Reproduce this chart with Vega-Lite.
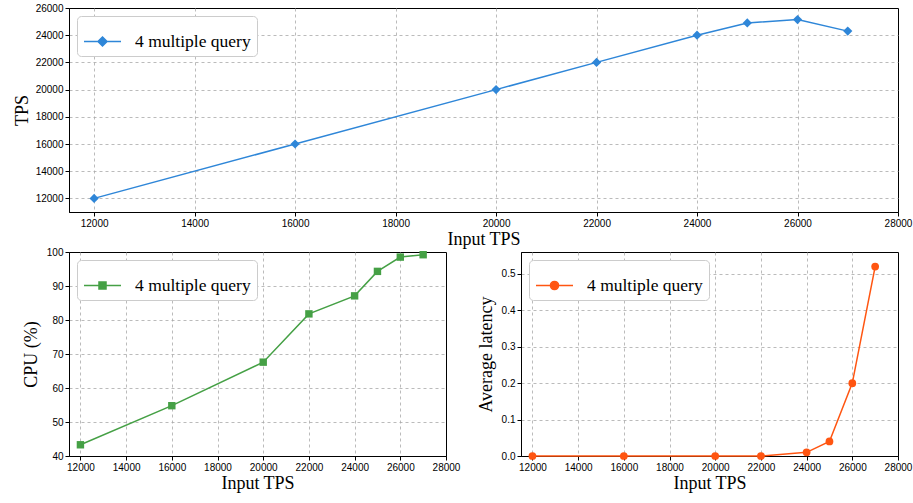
{
  "$schema": "https://vega.github.io/schema/vega-lite/v6.json",
  "padding": {"left": 12, "top": 2, "right": 5, "bottom": 5},
  "background": "white",
  "datasets": {
    "d": [
      {"x": 12000, "tps": 12000, "cpu": 43.3, "lat": 0.0, "series": "4 multiple query"},
      {"x": 16000, "tps": 16000, "cpu": 54.8, "lat": 0.0, "series": "4 multiple query"},
      {"x": 20000, "tps": 20000, "cpu": 67.6, "lat": 0.0, "series": "4 multiple query"},
      {"x": 22000, "tps": 22000, "cpu": 81.8, "lat": 0.0, "series": "4 multiple query"},
      {"x": 24000, "tps": 24000, "cpu": 87.1, "lat": 0.01, "series": "4 multiple query"},
      {"x": 25000, "tps": 24900, "cpu": 94.3, "lat": 0.04, "series": "4 multiple query"},
      {"x": 26000, "tps": 25150, "cpu": 98.5, "lat": 0.2, "series": "4 multiple query"},
      {"x": 27000, "tps": 24300, "cpu": 99.2, "lat": 0.52, "series": "4 multiple query"}
    ]
  },
  "config": {
    "view": {"stroke": "black", "strokeWidth": 1},
    "axis": {
      "domainColor": "black",
      "tickColor": "black",
      "tickSize": 4,
      "labelFont": "Liberation Sans",
      "labelFontSize": 10,
      "labelColor": "black",
      "labelPadding": 2,
      "labelFlush": false,
      "labelOverlap": false,
      "titleFont": "Liberation Serif",
      "titleFontSize": 18,
      "titleFontWeight": "normal",
      "titleColor": "black",
      "gridColor": "#aaaaaa",
      "gridDash": [3, 3],
      "gridWidth": 0.8
    },
    "legend": {
      "orient": "top-left",
      "offset": 8,
      "fillColor": "white",
      "strokeColor": "#cccccc",
      "cornerRadius": 4,
      "padding": 6,
      "labelFont": "Liberation Serif",
      "labelFontSize": 17.5,
      "labelColor": "black",
      "labelOffset": 13,
      "symbolSize": 1369,
      "symbolStrokeWidth": 1.5,
      "symbolOpacity": 1
    }
  },
  "spacing": -3,
  "resolve": {"scale": {"color": "independent"}, "legend": {"color": "independent"}},
  "vconcat": [
    {
      "width": 829,
      "height": 204,
      "data": {"name": "d"},
      "encoding": {
        "x": {"field": "x", "type": "quantitative", "scale": {"domain": [11500, 28000], "nice": false, "zero": false},
              "axis": {"title": "Input TPS", "values": [12000, 14000, 16000, 18000, 20000, 22000, 24000, 26000, 28000], "format": "d", "titlePadding": 2,
                       "gridOpacity": {"condition": {"test": "datum.value === 28000", "value": 0}, "value": 1}}},
        "y": {"field": "tps", "type": "quantitative", "scale": {"domain": [11000, 26000], "nice": false, "zero": false},
              "axis": {"title": "TPS", "values": [12000, 14000, 16000, 18000, 20000, 22000, 24000, 26000], "format": "d", "titlePadding": 4,
                       "gridOpacity": {"condition": {"test": "datum.value === 26000", "value": 0}, "value": 1}}},
        "color": {"field": "series", "type": "nominal", "scale": {"range": ["#2e86d8"]},
                  "legend": {"title": null, "symbolType": "M-1,0H1M0,-0.245L0.245,0L0,0.245L-0.245,0Z", "symbolFillColor": "#2e86d8", "symbolStrokeColor": "#2e86d8"}}
      },
      "layer": [
        {"mark": {"type": "line", "strokeWidth": 1.5}},
        {"mark": {"type": "point", "shape": "diamond", "filled": true, "size": 85, "opacity": 1}}
      ]
    },
    {
      "spacing": 15,
      "resolve": {"scale": {"color": "independent"}, "legend": {"color": "independent"}},
      "hconcat": [
        {
          "width": 377,
          "height": 204,
          "data": {"name": "d"},
          "encoding": {
            "x": {"field": "x", "type": "quantitative", "scale": {"domain": [11500, 28000], "nice": false, "zero": false},
                  "axis": {"title": "Input TPS", "values": [12000, 14000, 16000, 18000, 20000, 22000, 24000, 26000, 28000], "format": "d", "titlePadding": 2,
                           "gridOpacity": {"condition": {"test": "datum.value === 28000", "value": 0}, "value": 1}}},
            "y": {"field": "cpu", "type": "quantitative", "scale": {"domain": [40, 100], "nice": false, "zero": false},
                  "axis": {"title": "CPU (%)", "values": [40, 50, 60, 70, 80, 90, 100], "titlePadding": 6,
                           "gridOpacity": {"condition": {"test": "datum.value === 100", "value": 0}, "value": 1}}},
            "color": {"field": "series", "type": "nominal", "scale": {"range": ["#45a045"]},
                      "legend": {"title": null, "symbolType": "M-1,0H1M-0.19,-0.19H0.19V0.19H-0.19Z", "symbolFillColor": "#45a045", "symbolStrokeColor": "#45a045"}}
          },
          "layer": [
            {"mark": {"type": "line", "strokeWidth": 1.5}},
            {"mark": {"type": "point", "shape": "square", "filled": true, "size": 55, "opacity": 1}}
          ]
        },
        {
          "width": 377,
          "height": 204,
          "data": {"name": "d"},
          "encoding": {
            "x": {"field": "x", "type": "quantitative", "scale": {"domain": [11500, 28000], "nice": false, "zero": false},
                  "axis": {"title": "Input TPS", "values": [12000, 14000, 16000, 18000, 20000, 22000, 24000, 26000, 28000], "format": "d", "titlePadding": 2,
                           "gridOpacity": {"condition": {"test": "datum.value === 28000", "value": 0}, "value": 1}}},
            "y": {"field": "lat", "type": "quantitative", "scale": {"domain": [0, 0.56], "nice": false, "zero": false},
                  "axis": {"title": "Average latency", "values": [0, 0.1, 0.2, 0.3, 0.4, 0.5], "format": ".1f", "titlePadding": 6}},
            "color": {"field": "series", "type": "nominal", "scale": {"range": ["#ff5511"]},
                      "legend": {"title": null, "symbolType": "M-1,0H1M-0.22,0A0.22,0.22,0,1,0,0.22,0A0.22,0.22,0,1,0,-0.22,0Z", "symbolFillColor": "#ff5511", "symbolStrokeColor": "#ff5511"}}
          },
          "layer": [
            {"mark": {"type": "line", "strokeWidth": 1.5}},
            {"mark": {"type": "point", "shape": "circle", "filled": true, "size": 60, "opacity": 1}}
          ]
        }
      ]
    }
  ]
}
